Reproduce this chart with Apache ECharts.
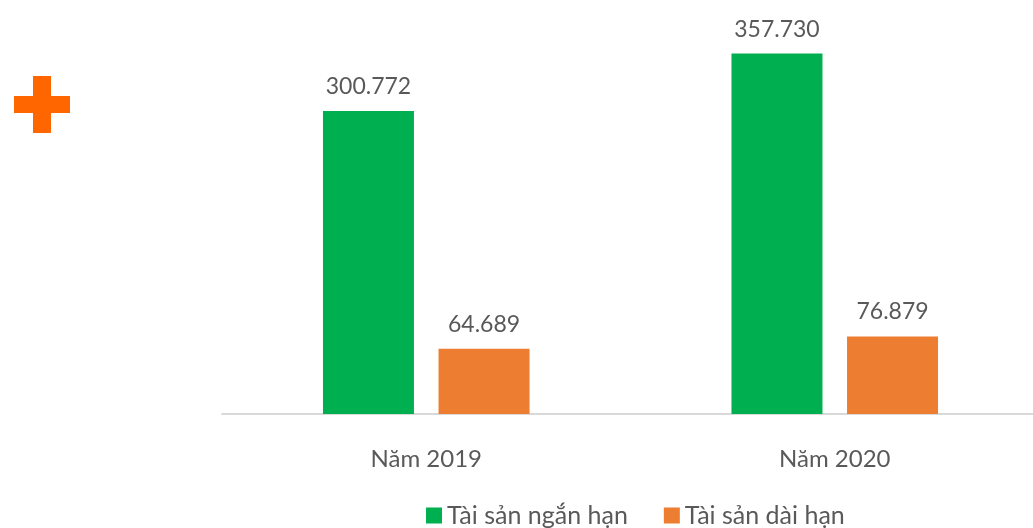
<!DOCTYPE html>
<html>
<head>
<meta charset="utf-8">
<script src="https://cdn.jsdelivr.net/npm/echarts@6/dist/echarts.min.js"></script>
<style>
  html, body { margin: 0; padding: 0; background: #fff; }
  #chart { width: 1033px; height: 528px; }
</style>
</head>
<body>
<div id="chart"></div>
<script>
const categories = ['Năm 2019', 'Năm 2020'];
const shortTerm = [300772, 357730];
const longTerm = [64689, 76879];
const seriesNames = ['Tài sản ngắn hạn', 'Tài sản dài hạn'];

const fmt = v => String(v).replace(/\B(?=(\d{3})+(?!\d))/g, '.');
const textColor = '#595959';
const font = 'Lato';

const chart = echarts.init(document.getElementById('chart'));
const label = {
  show: true,
  position: 'top',
  distance: 13,
  color: textColor,
  fontFamily: font,
  fontSize: 23,
  formatter: p => fmt(p.value)
};

chart.setOption({
  animation: false,
  grid: { left: 222, width: 817, top: 11, bottom: 114, outerBoundsMode: 'none' },
  legend: {
    left: 426,
    top: 503,
    padding: 0,
    itemWidth: 16,
    itemHeight: 16,
    itemGap: 36,
    icon: 'rect',
    textStyle: { color: textColor, fontFamily: font, fontSize: 25 },
    data: seriesNames
  },
  xAxis: {
    type: 'category',
    data: categories,
    axisLine: { lineStyle: { color: '#d9d9d9', width: 2 } },
    axisTick: { show: false },
    axisLabel: { color: textColor, fontFamily: font, fontSize: 24, margin: 33 }
  },
  yAxis: {
    type: 'value',
    min: 0,
    max: 400000,
    show: false,
    splitLine: { show: false }
  },
  series: [
    {
      name: seriesNames[0],
      type: 'bar',
      data: shortTerm,
      barWidth: 91,
      barGap: '27%',
      itemStyle: { color: '#00B050' },
      label
    },
    {
      name: seriesNames[1],
      type: 'bar',
      data: longTerm,
      barWidth: 91,
      itemStyle: { color: '#ED7D31' },
      label
    }
  ],
  graphic: [
    { type: 'rect', left: 14, top: 96, shape: { width: 56, height: 17 }, style: { fill: '#FF6600' } },
    { type: 'rect', left: 33, top: 76, shape: { width: 18, height: 57 }, style: { fill: '#FF6600' } }
  ]
});
</script>
</body>
</html>
